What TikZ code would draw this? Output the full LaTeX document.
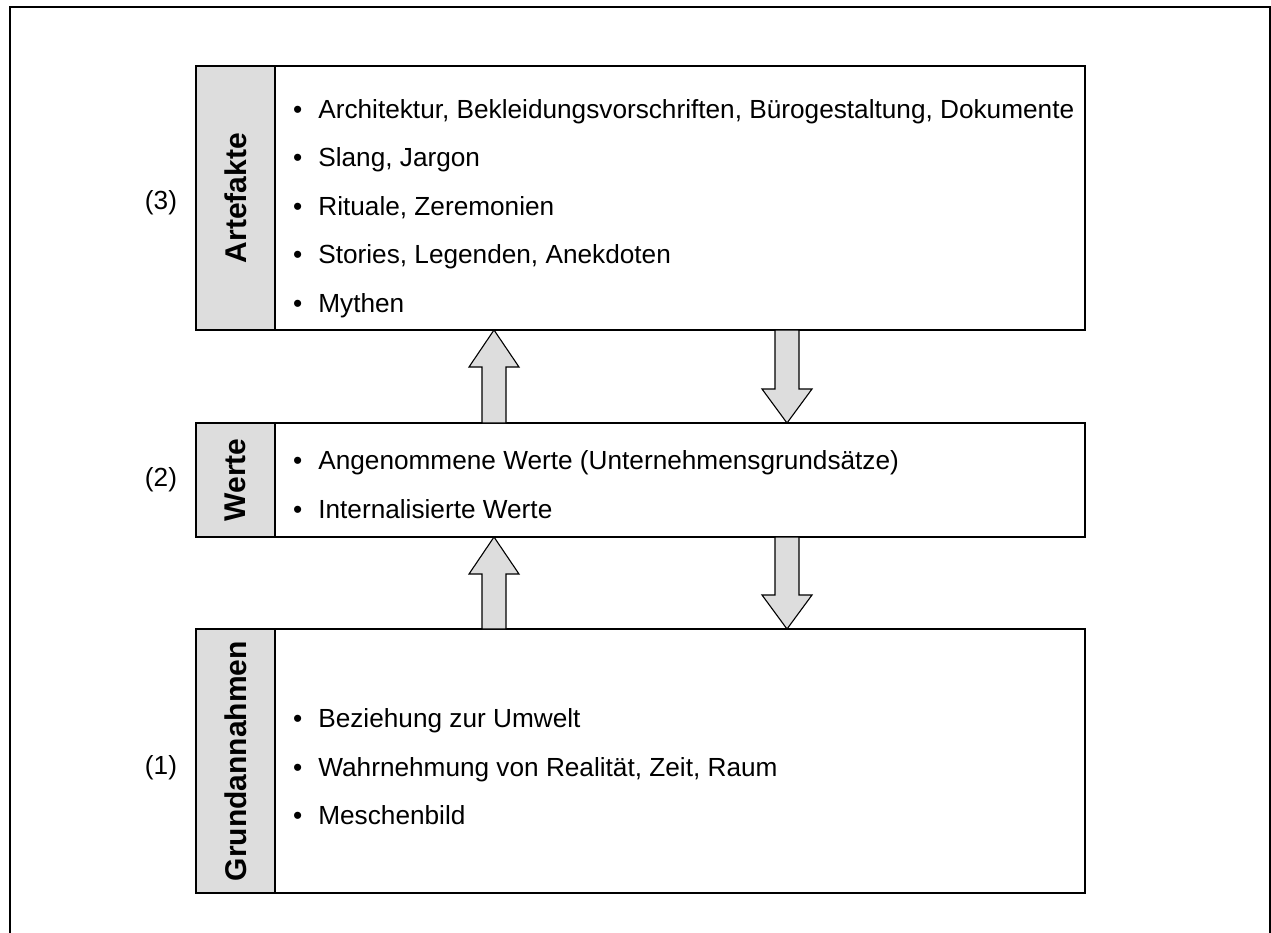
\documentclass[tikz,border=0pt]{standalone}
\usepackage{fontspec}
\setmainfont{Liberation Sans}
\usetikzlibrary{calc}
\definecolor{panelgray}{RGB}{221,221,221}
\newcommand\listentry[1]{\textbullet\hspace{16pt}#1}
\begin{document}
\begin{tikzpicture}[x=1pt,y=-1pt,
  frame/.style={line width=2pt},
  tagbox/.style={draw, line width=1.6pt, fill=panelgray, rotate=90,
    minimum height=79pt, inner sep=0pt, outer sep=0pt,
    font=\fontsize{30}{36}\selectfont\bfseries},
  listbox/.style={draw, line width=1.6pt, fill=white, anchor=north west,
    minimum width=810pt, inner sep=0pt, outer sep=0pt},
  items/.style={anchor=west, align=left, inner sep=0pt,
    font=\fontsize{26.2}{48.5}\selectfont},
  levelnum/.style={font=\fontsize{26.2}{30}\selectfont},
  blockarrow/.style={draw, line width=1.1pt, fill=panelgray, line join=miter}]
\useasboundingbox (0,0) rectangle (1271,932);

% open frame around the whole figure
\draw[frame] (9.5,945) -- (9.5,6.5) -- (1269.5,6.5) -- (1269.5,945);

% x positions of the upward and downward block arrows
\coordinate (upx) at (494,0);
\coordinate (dnx) at (787,0);

% level 3: artefacts
\node[listbox, minimum height=264pt] (artBox) at (275,66) {};
\node[tagbox, minimum width=264pt] (artTag) at (235.5,198) {Artefakte};
\node[items] (artItems) at ($(artBox.west)+(18,10)$) {\rule{0pt}{20pt}%
  \listentry{Architektur, Bekleidungsvorschriften, Bürogestaltung, Dokumente}\\
  \listentry{Slang, Jargon}\\
  \listentry{Rituale, Zeremonien}\\
  \listentry{Stories, Legenden, Anekdoten}\\
  \listentry{Mythen}\rule[-6pt]{0pt}{6pt}};
\node[levelnum] (lvl3) at (161,203) {(3)};

% level 2: values
\node[listbox, minimum height=114pt] (wertBox) at (275,423) {};
\node[tagbox, minimum width=114pt] (wertTag) at (235.5,480) {Werte};
\node[items] (wertItems) at ($(wertBox.west)+(18,7)$) {\rule{0pt}{20pt}%
  \listentry{Angenommene Werte (Unternehmensgrundsätze)}\\
  \listentry{Internalisierte Werte}\rule[-6pt]{0pt}{6pt}};
\node[levelnum] (lvl2) at (161,480) {(2)};

% level 1: basic assumptions
\node[listbox, minimum height=264pt] (grundBox) at (275,629) {};
\node[tagbox, minimum width=264pt] (grundTag) at (235.5,761) {Grundannahmen};
\node[items] (grundItems) at ($(grundBox.west)+(18,8)$) {\rule{0pt}{20pt}%
  \listentry{Beziehung zur Umwelt}\\
  \listentry{Wahrnehmung von Realität, Zeit, Raum}\\
  \listentry{Meschenbild}\rule[-6pt]{0pt}{6pt}};
\node[levelnum] (lvl1) at (161,768) {(1)};

% block arrows: #1 x-coordinate, #2 start node, #3 end node
\newcommand\upblock[3]{%
  \draw[blockarrow] let \p1=(#2.north -| #1), \p2=(#3.south -| #1) in
    (\x1-12pt,\y1) -- (\x1-12pt,\y2-37pt) -- (\x1-25pt,\y2-37pt) -- (\x1,\y2)
    -- (\x1+25pt,\y2-37pt) -- (\x1+12pt,\y2-37pt) -- (\x1+12pt,\y1) -- cycle;}
\newcommand\downblock[3]{%
  \draw[blockarrow] let \p1=(#2.south -| #1), \p2=(#3.north -| #1) in
    (\x1-12pt,\y1) -- (\x1-12pt,\y2+34pt) -- (\x1-25pt,\y2+34pt) -- (\x1,\y2)
    -- (\x1+25pt,\y2+34pt) -- (\x1+12pt,\y2+34pt) -- (\x1+12pt,\y1) -- cycle;}

\upblock{upx}{wertBox}{artBox}
\downblock{dnx}{artBox}{wertBox}
\upblock{upx}{grundBox}{wertBox}
\downblock{dnx}{wertBox}{grundBox}
\end{tikzpicture}
\end{document}
